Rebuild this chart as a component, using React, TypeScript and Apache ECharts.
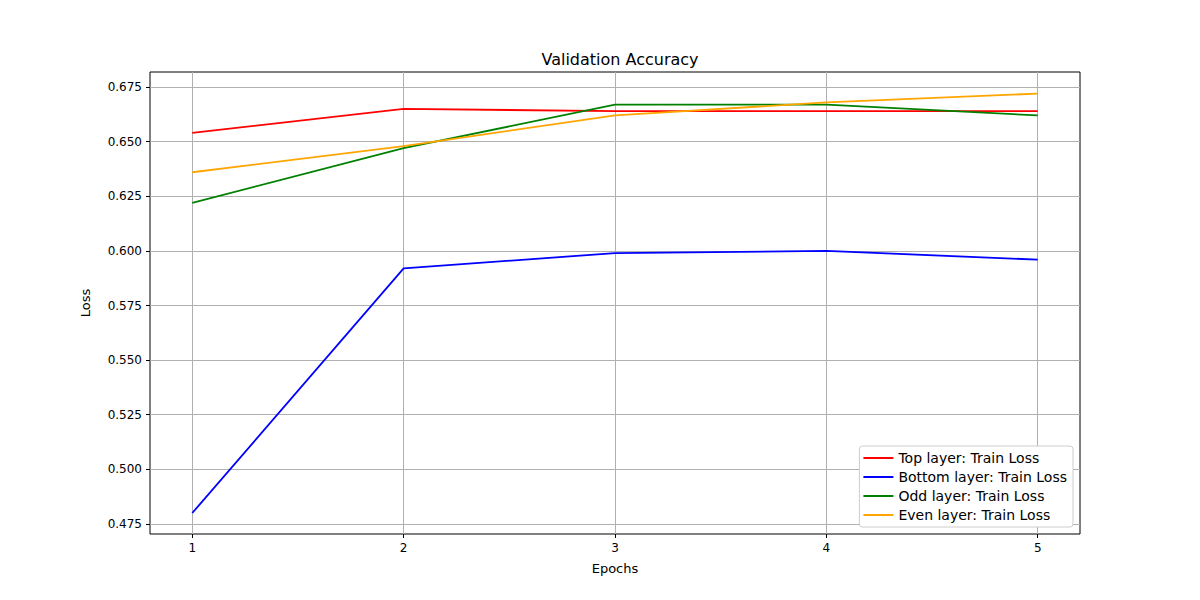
import React, { useEffect, useRef } from "react";
import * as echarts from "echarts";

const epochs = [1, 2, 3, 4, 5];
const topLayer = [0.654, 0.665, 0.664, 0.664, 0.664];
const bottomLayer = [0.48, 0.592, 0.599, 0.6, 0.596];
const oddLayer = [0.622, 0.647, 0.667, 0.667, 0.662];
const evenLayer = [0.636, 0.648, 0.662, 0.668, 0.672];
const yTicks = [0.475, 0.5, 0.525, 0.55, 0.575, 0.6, 0.625, 0.65, 0.675];
const seriesDefs = [
  { name: "Top layer: Train Loss", data: topLayer, color: "red" },
  { name: "Bottom layer: Train Loss", data: bottomLayer, color: "blue" },
  { name: "Odd layer: Train Loss", data: oddLayer, color: "green" },
  { name: "Even layer: Train Loss", data: evenLayer, color: "orange" },
];

export default function App() {
  const ref = useRef<HTMLDivElement>(null);
  useEffect(() => {
    const chart = echarts.init(ref.current!, null, { renderer: "svg" });
    const font = "DejaVu Sans";
    chart.setOption({
      animation: false,
      textStyle: { fontFamily: font },
      title: { text: "Validation Accuracy", left: 615, top: 46, textAlign: "center", textStyle: { fontFamily: font, fontSize: 16, fontWeight: "normal", color: "#000" } },
      grid: { left: 150, right: 120, top: 72, bottom: 66, show: true, borderColor: "#000", borderWidth: 1, backgroundColor: "transparent" },
      xAxis: {
        type: "value", min: 0.8, max: 5.2, interval: 1,
        name: "Epochs", nameLocation: "middle", nameGap: 28, nameTextStyle: { fontFamily: font, fontSize: 13, color: "#000" },
        axisLine: { show: false },
        axisTick: { show: true, customValues: epochs, length: 4, lineStyle: { color: "#000" } },
        axisLabel: { customValues: epochs, color: "#000", fontSize: 12, fontFamily: font, margin: 8 },
        splitLine: { show: true, lineStyle: { color: "#b0b0b0", width: 1 } },
      },
      yAxis: {
        type: "value", min: 0.4704, max: 0.6819,
        name: "Loss", nameLocation: "middle", nameGap: 58, nameTextStyle: { fontFamily: font, fontSize: 13, color: "#000" },
        axisLine: { show: false },
        axisTick: { show: true, customValues: yTicks, length: 4, lineStyle: { color: "#000" } },
        axisLabel: { customValues: yTicks, color: "#000", fontSize: 12, fontFamily: font, formatter: (v: number) => v.toFixed(3) },
        splitLine: { show: true, lineStyle: { color: "#b0b0b0", width: 1 } },
      },
      legend: {
        orient: "vertical", right: 127, bottom: 73, backgroundColor: "#fff", borderColor: "#ccc", borderWidth: 1, borderRadius: 3,
        padding: [5, 6, 5, 4], itemGap: 5, itemWidth: 30, itemHeight: 14, icon: "path://M0,6L30,6L30,8L0,8Z",
        textStyle: { fontFamily: font, fontSize: 14, color: "#000" },
        data: seriesDefs.map((s) => s.name),
      },
      series: seriesDefs.map((s) => ({
        name: s.name, type: "line", data: epochs.map((e, i) => [e, s.data[i]]),
        showSymbol: false, symbol: "none", color: s.color, lineStyle: { color: s.color, width: 1.8 },
      })),
    });
    return () => chart.dispose();
  }, []);
  return <div ref={ref} style={{ width: 1200, height: 600, margin: -8 }} />;
}
